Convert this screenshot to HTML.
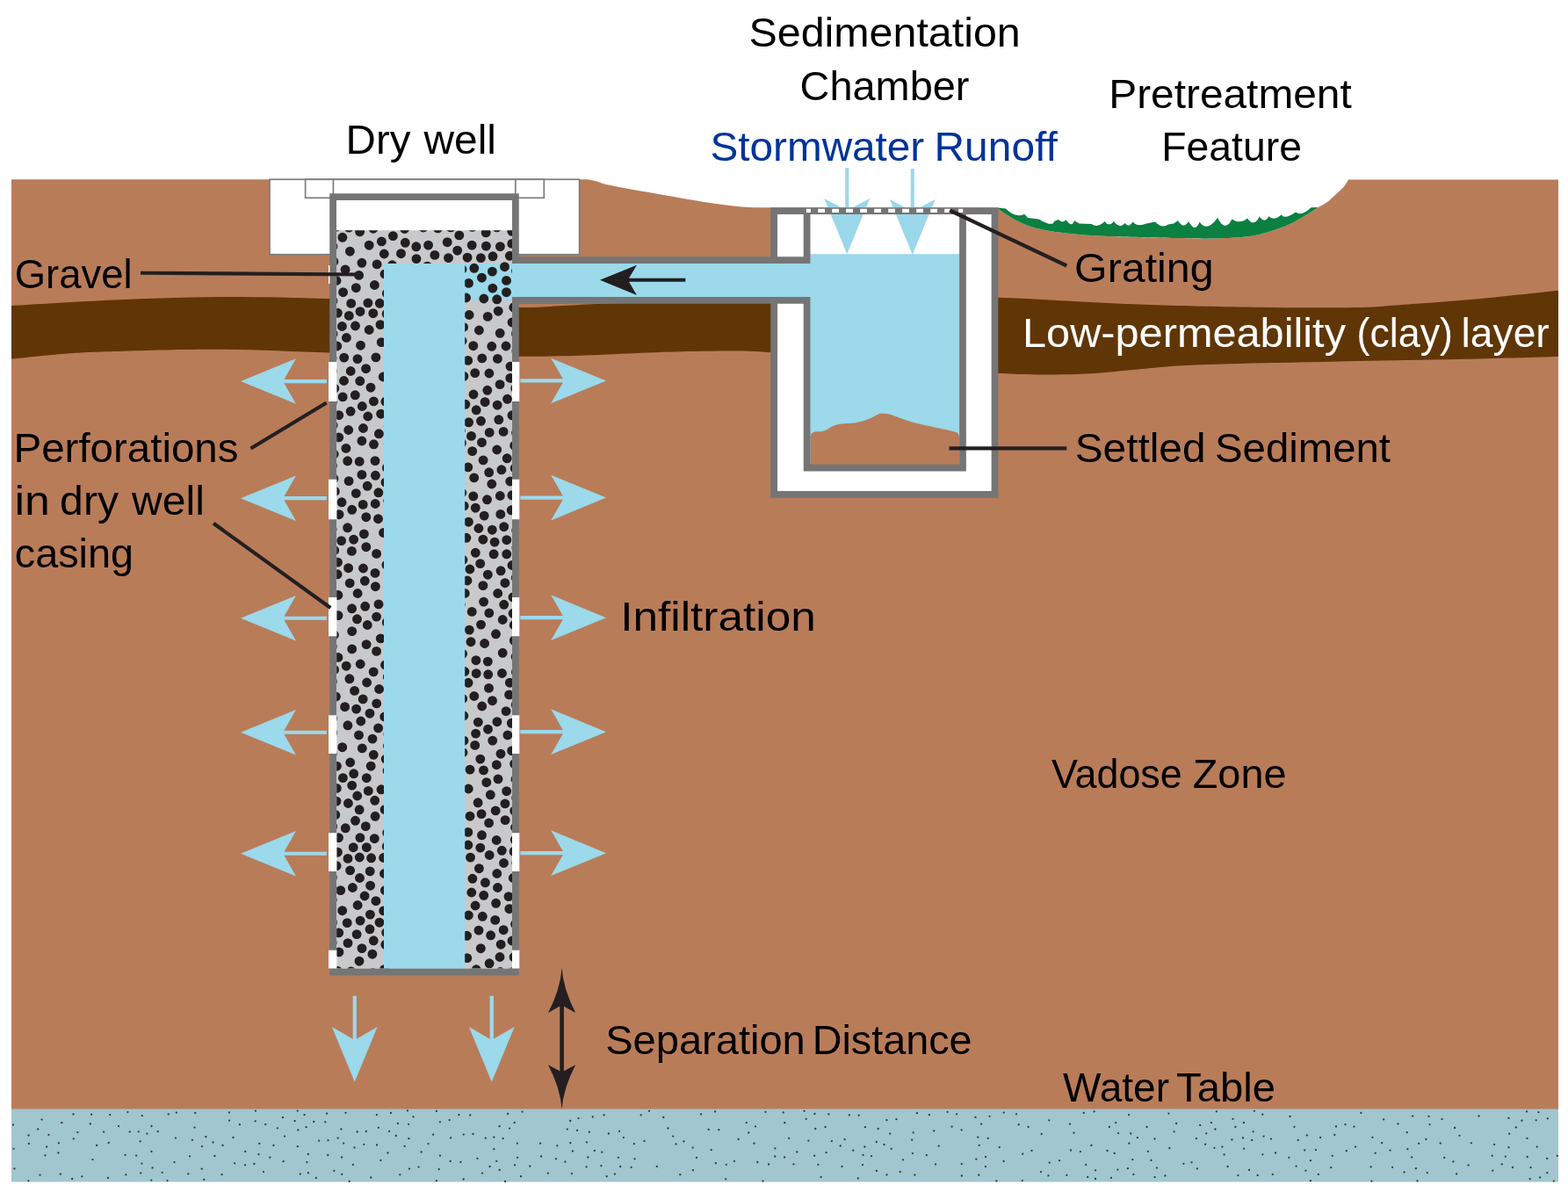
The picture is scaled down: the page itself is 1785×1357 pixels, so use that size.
<!DOCTYPE html>
<html lang="en"><head><meta charset="utf-8"><title>Dry well with sedimentation chamber</title>
<style>html,body{margin:0;padding:0;background:#fff}svg{display:block;will-change:transform}text{font-family:"Liberation Sans","DejaVu Sans",sans-serif}</style></head><body>
<svg width="1785" height="1357" viewBox="0 0 1785 1357">
<rect width="1785" height="1357" fill="#fff"/>
<path d="M13,204.25H670C671.7,204.7 676.8,205.8 680.0,206.7C683.2,207.6 683.8,208.4 689.2,209.7C694.7,211.0 703.6,212.7 712.7,214.4C721.9,216.1 733.6,218.1 744.1,219.9C754.6,221.7 765.0,223.6 775.5,225.4C786.0,227.2 797.8,229.4 806.9,230.8C816.0,232.2 822.6,233.1 830.4,233.9C838.2,234.8 846.1,235.5 853.9,235.9C861.7,236.3 873.1,236.2 877.0,236.2H1133.75C1137.7,238.7 1149.4,247.1 1157.5,251.2C1165.6,255.3 1172.1,258.1 1182.5,260.6C1192.9,263.1 1205.4,264.8 1220.0,266.2C1234.6,267.6 1249.6,268.5 1270.0,269.3C1290.4,270.1 1324.2,270.7 1342.5,271.1C1360.8,271.5 1367.5,271.9 1380.0,271.6C1392.5,271.4 1407.1,270.8 1417.5,269.6C1427.9,268.4 1434.2,266.8 1442.5,264.4C1450.8,262.0 1460.2,258.6 1467.5,255.4C1474.8,252.2 1480.7,248.4 1486.2,245.2C1491.8,242.0 1498.2,237.5 1500.6,236.0C1502.3,235.0 1507.6,232.5 1511.0,230.0C1514.4,227.5 1518.0,223.7 1521.0,221.0C1524.0,218.3 1526.8,215.8 1528.8,213.8C1530.7,211.7 1531.5,210.3 1532.5,208.8C1533.5,207.2 1534.6,205.1 1535.0,204.4H1774V1264H13Z" fill="#B97C59"/>
<path d="M1133.75,236.25L1145,237.5Q1156.25,248.9 1166.25,243.75L1170,248L1182.5,249.4Q1198.75,258.9 1200,251.9L1205,250Q1208.75,254.5 1213.75,250.6Q1220,259.8 1223,251.25L1228.75,254.4L1242.5,255Q1250,260.0 1257.5,252Q1262.5,258.9 1268,251.9Q1275,261.7 1280.6,253.75Q1285,260.3 1289.4,252.5Q1295,258.8 1305,254.4L1315,252.5Q1322.5,260.6 1330,255.6L1336,254.4L1341,251.25Q1347.5,261.7 1353,251.9Q1360.6,265.9 1365.6,252.5Q1373.75,265.1 1386.25,247.75Q1394.4,265.5 1402.5,249.4Q1411.25,255.7 1420,248.5Q1427.5,259.3 1433.75,246.6Q1439.4,254.9 1444.4,246.25Q1450,251.8 1458.75,244.4Q1462,250.5 1475,241.5Q1482,246.7 1492.5,236.25L1500.6,236L1500.6,236C1498.2,237.5 1491.8,242.0 1486.2,245.2C1480.7,248.4 1474.8,252.2 1467.5,255.4C1460.2,258.6 1450.8,262.0 1442.5,264.4C1434.2,266.8 1427.9,268.4 1417.5,269.6C1407.1,270.8 1392.5,271.4 1380.0,271.6C1367.5,271.9 1360.8,271.5 1342.5,271.1C1324.2,270.7 1290.4,270.1 1270.0,269.3C1249.6,268.5 1234.6,267.6 1220.0,266.2C1205.4,264.8 1192.9,263.1 1182.5,260.6C1172.1,258.1 1165.6,255.3 1157.5,251.2C1149.4,247.1 1137.7,238.7 1133.8,236.2Z" fill="#0B8040"/>
<path d="M13,348C32.5,346.9 90.5,343.2 130.0,341.5C169.5,339.8 209.2,338.2 250.0,338.0C290.8,337.8 336.7,338.8 375.0,340.0C413.3,341.2 444.0,343.3 480.0,345.0C516.0,346.7 564.3,349.5 591.0,350.0C617.7,350.5 624.3,348.7 640.0,348.0C655.7,347.3 668.3,346.5 685.0,345.8C701.7,345.1 722.5,344.6 740.0,344.0C757.5,343.4 767.2,343.2 790.0,342.5C812.8,341.8 840.3,340.8 877.0,340.0C913.7,339.2 966.7,338.2 1010.0,338.0C1053.3,337.8 1100.3,337.8 1137.0,338.8C1173.7,339.7 1198.7,342.0 1230.0,343.5C1261.3,345.0 1288.3,346.4 1325.0,347.5C1361.7,348.6 1413.2,349.6 1450.0,350.0C1486.8,350.4 1522.8,350.4 1546.0,350.0C1569.2,349.6 1566.7,349.1 1589.0,347.5C1611.3,345.9 1649.2,343.3 1680.0,340.5C1710.8,337.7 1758.3,332.4 1774.0,330.8L1774,406C1755.0,406.5 1698.0,408.2 1660.0,409.0C1622.0,409.8 1581.0,410.3 1546.0,411.0C1511.0,411.7 1482.7,412.2 1450.0,413.0C1417.3,413.8 1376.7,414.7 1350.0,416.0C1323.3,417.3 1310.8,419.3 1290.0,421.0C1269.2,422.7 1250.5,425.3 1225.0,426.0C1199.5,426.7 1174.5,426.8 1137.0,425.0C1099.5,423.2 1043.3,419.0 1000.0,415.0C956.7,411.0 912.0,403.8 877.0,401.2C842.0,398.8 819.5,399.7 790.0,400.0C760.5,400.3 725.0,402.3 700.0,403.2C675.0,404.1 658.2,404.9 640.0,405.3C621.8,405.7 617.7,405.9 591.0,405.8C564.3,405.7 516.0,405.2 480.0,404.5C444.0,403.8 413.3,402.6 375.0,401.5C336.7,400.4 290.8,397.9 250.0,397.7C209.2,397.4 160.0,399.1 130.0,400.0C100.0,400.9 89.5,401.5 70.0,403.0C50.5,404.5 22.5,407.8 13.0,408.8Z" fill="#603606"/>
<rect x="13" y="1262.5" width="1761" height="83" fill="#A1C6CE"/>
<path d="M809.7,1309.1h0M1639.7,1301.5h0M907.3,1311.4h0M338.8,1305.2h0M1122.0,1328.1h0M179.6,1288.2h0M173.5,1329.5h0M1233.8,1266.9h0M1741.7,1342.1h0M1164.2,1313.7h0M291.0,1264.7h0M943.4,1268.4h0M348.6,1283.2h0M66.9,1301.3h0M788.9,1332.2h0M927.1,1315.7h0M893.1,1317.5h0M818.4,1286.2h0M1768.9,1344.6h0M1491.9,1321.2h0M568.6,1282.2h0M522.4,1269.2h0M1361.9,1296.1h0M1503.1,1295.0h0M1699.2,1332.6h0M15.0,1280.6h0M1615.2,1301.8h0M1738.5,1295.9h0M142.5,1314.8h0M1383.4,1285.5h0M167.3,1290.6h0M1709.8,1325.3h0M221.5,1283.6h0M191.7,1268.4h0M1416.0,1278.0h0M997.8,1300.0h0M349.4,1323.1h0M244.4,1316.0h0M218.9,1297.8h0M388.4,1285.5h0M1721.9,1329.0h0M549.0,1335.6h0M384.6,1295.6h0M1516.8,1315.8h0M190.5,1344.1h0M1373.2,1290.3h0M535.2,1269.5h0M172.5,1311.0h0M441.5,1312.5h0M667.8,1300.4h0M1701.1,1302.9h0M1024.7,1334.1h0M335.6,1276.1h0M1611.9,1330.2h0M452.9,1279.0h0M1314.6,1340.1h0M359.8,1340.9h0M1565.8,1312.7h0M755.3,1272.0h0M82.1,1342.0h0M433.4,1320.9h0M466.0,1330.6h0M1063.2,1287.4h0M322.6,1322.2h0M135.0,1282.1h0M997.9,1333.0h0M1094.6,1286.3h0M1627.6,1280.1h0M43.2,1285.4h0M798.0,1268.4h0M324.0,1293.6h0M1020.4,1274.2h0M651.0,1336.1h0M1738.7,1317.0h0M1229.9,1311.1h0M260.9,1266.4h0M45.5,1337.7h0M1247.0,1342.0h0M51.4,1315.3h0M862.3,1323.0h0M575.0,1344.9h0M1310.5,1320.9h0M1409.4,1338.1h0M632.9,1319.3h0M1598.6,1334.5h0M747.8,1327.9h0M1532.8,1310.2h0M1113.3,1294.7h0M1038.9,1313.1h0M155.1,1315.6h0M1761.3,1335.2h0M1294.9,1295.2h0M1306.9,1310.8h0M161.4,1324.6h0M66.4,1312.5h0M860.0,1282.3h0M1242.4,1304.0h0M1094.9,1338.5h0M464.0,1264.4h0M543.5,1318.8h0M370.3,1277.3h0M1607.2,1317.3h0M589.1,1317.8h0M363.2,1298.6h0M1431.7,1338.0h0M1562.4,1294.8h0M1039.7,1289.3h0M253.5,1304.0h0M1486.5,1332.7h0M1265.0,1340.9h0M500.9,1277.3h0M806.7,1285.9h0M1114.7,1303.8h0M568.7,1331.9h0M145.4,1266.1h0M1549.3,1266.9h0M1260.5,1310.0h0M557.6,1328.0h0M47.6,1274.6h0M814.1,1265.5h0M1473.4,1282.8h0M1122.1,1316.9h0M1218.0,1279.7h0M849.8,1278.1h0M32.9,1302.0h0M1270.2,1278.1h0M493.1,1291.7h0M1094.8,1325.1h0M706.2,1328.0h0M1608.1,1270.6h0M1654.5,1322.4h0M242.5,1300.5h0M1114.3,1337.7h0M676.8,1309.9h0M1560.7,1328.4h0M1674.9,1301.3h0M1159.7,1280.2h0M1283.9,1330.2h0M1142.6,1322.0h0M389.2,1336.8h0M958.5,1327.9h0M1519.3,1291.9h0M159.6,1299.4h0M982.0,1326.1h0M871.4,1265.8h0M1437.3,1268.7h0M603.3,1327.7h0M261.1,1275.6h0M1683.6,1270.5h0M403.5,1306.4h0M524.4,1322.9h0M1137.8,1306.1h0M1497.9,1309.1h0M562.3,1294.6h0M1500.8,1336.9h0M380.3,1332.8h0M1717.5,1306.2h0M956.7,1304.5h0M1078.6,1265.8h0M718.6,1328.8h0M961.6,1297.2h0M487.5,1302.1h0M1448.8,1336.9h0M852.2,1289.4h0M350.8,1313.9h0M1641.6,1274.1h0M1384.8,1265.4h0M1222.5,1289.7h0M198.5,1323.1h0M230.0,1305.1h0M946.9,1299.1h0M373.3,1315.0h0M1521.0,1282.5h0M1317.0,1329.6h0M1601.8,1289.2h0M397.7,1344.9h0M1575.2,1274.4h0M470.5,1271.4h0M1477.8,1297.9h0M1403.5,1273.8h0M722.5,1319.3h0M1214.3,1337.8h0M1717.4,1272.9h0M903.5,1325.3h0M346.5,1269.2h0M200.8,1266.6h0M984.4,1305.5h0M1491.9,1344.2h0M123.0,1341.0h0M826.8,1325.8h0M588.9,1301.6h0M920.4,1298.6h0M1247.1,1332.3h0M1314.5,1296.5h0M357.2,1277.0h0M915.6,1264.8h0M1585.1,1328.8h0M1068.7,1304.6h0M1742.5,1329.1h0M1447.0,1296.6h0M1236.2,1326.0h0M1285.1,1269.2h0M615.1,1301.7h0M32.6,1292.5h0M422.3,1340.5h0M1185.7,1291.0h0M1174.5,1309.9h0M1772.8,1315.8h0M1738.0,1265.4h0M465.4,1296.2h0M102.8,1279.4h0M674.8,1271.5h0M455.3,1337.3h0M1065.1,1325.4h0M93.4,1339.3h0M295.3,1301.9h0M311.5,1303.9h0M1089.1,1268.3h0M940.6,1312.2h0M657.0,1286.8h0M512.7,1321.9h0M445.0,1267.0h0M289.4,1325.0h0M699.9,1336.6h0M1330.4,1267.6h0M1753.2,1340.5h0M143.3,1337.3h0M769.5,1302.4h0M1725.8,1283.4h0M934.6,1339.9h0M1285.3,1301.7h0M372.2,1267.7h0M793.0,1317.9h0M1038.2,1297.7h0M1382.4,1306.8h0M1305.6,1282.9h0M214.3,1336.3h0M1393.6,1314.4h0M645.8,1285.6h0M1219.0,1309.5h0M1054.8,1315.1h0M1339.1,1279.0h0M1624.8,1335.1h0M83.5,1268.5h0M1110.5,1271.9h0M966.8,1269.4h0M982.6,1314.9h0M1437.4,1314.3h0M1366.2,1280.9h0M760.4,1284.5h0M1438.6,1293.6h0M1163.8,1344.1h0M1326.4,1338.5h0M766.2,1293.6h0M184.7,1334.8h0M1006.5,1303.0h0M389.1,1317.5h0M157.7,1288.3h0M1289.3,1320.1h0M511.6,1275.1h0M643.4,1322.7h0M658.5,1273.1h0M1426.6,1288.3h0M572.7,1296.1h0M1658.1,1336.4h0M450.8,1293.0h0M709.9,1295.1h0M1416.1,1307.6h0M1485.2,1309.4h0M53.1,1305.5h0M971.2,1309.7h0M1713.9,1316.6h0M161.8,1270.2h0M267.1,1324.3h0M401.8,1325.9h0M931.4,1325.8h0M882.4,1307.3h0M1623.4,1297.0h0M1467.3,1317.8h0M1515.3,1329.2h0M1698.7,1315.7h0M1425.2,1297.9h0M373.5,1298.1h0M527.7,1342.5h0M118.1,1288.6h0M216.0,1316.3h0M1378.9,1278.1h0M123.7,1300.9h0M1041.4,1337.6h0M339.4,1286.4h0M562.3,1308.2h0M976.8,1341.5h0M496.9,1344.2h0M1170.6,1282.9h0M667.6,1328.4h0M1268.7,1312.9h0M290.7,1276.3h0M580.1,1284.6h0M1543.0,1305.6h0M1134.4,1344.4h0M279.0,1326.3h0M16.4,1330.4h0M858.5,1301.7h0M1402.4,1297.5h0M1626.6,1270.9h0M147.7,1288.4h0M835.9,1321.8h0M200.0,1295.6h0M826.2,1342.3h0M1262.9,1282.9h0M32.4,1344.3h0M538.5,1291.0h0M703.9,1317.8h0M465.1,1279.8h0M1287.2,1290.5h0M1468.5,1271.0h0M1206.1,1321.2h0M172.5,1282.0h0M729.6,1269.4h0M1362.9,1330.4h0M692.9,1290.5h0M739.0,1264.8h0M616.0,1316.5h0M1602.4,1308.2h0M634.2,1304.3h0M1749.7,1305.6h0M1272.4,1331.6h0M1117.1,1279.6h0M1028.0,1320.3h0M593.0,1339.2h0M649.3,1301.2h0M232.2,1342.8h0M252.5,1337.2h0M999.7,1285.0h0M1613.5,1344.4h0M1452.0,1312.5h0M229.7,1330.7h0M977.7,1269.7h0M70.3,1278.2h0M1194.7,1323.6h0M685.3,1311.7h0M1427.9,1264.8h0M265.5,1295.0h0M928.3,1285.0h0M1013.2,1290.6h0M1142.8,1266.6h0M1194.3,1275.3h0M840.6,1297.0h0M1111.3,1319.7h0M1347.4,1324.8h0M868.5,1344.6h0M733.5,1298.9h0M1009.5,1337.3h0M774.3,1337.2h0M578.1,1268.0h0M1290.3,1336.9h0M1336.6,1288.3h0M1057.9,1269.2h0M898.1,1295.8h0M105.4,1320.1h0M939.6,1283.0h0M552.8,1295.7h0M428.9,1269.1h0M1185.0,1334.1h0M443.1,1287.9h0M1043.9,1267.2h0M68.8,1336.7h0M1591.5,1279.4h0M1487.9,1292.4h0M1561.4,1344.6h0M350.9,1335.2h0M1238.2,1339.9h0M406.7,1288.5h0M669.3,1317.5h0M416.8,1288.0h0M1644.2,1317.9h0M501.0,1315.7h0M172.3,1343.6h0M788.6,1306.6h0M341.8,1336.6h0M1751.4,1266.2h0M690.7,1339.2h0M893.3,1278.2h0M992.0,1316.1h0M1391.3,1305.6h0M1083.6,1282.7h0M1397.6,1328.0h0M429.0,1303.4h0M891.7,1266.4h0M778.5,1299.5h0M476.5,1328.6h0M1014.7,1307.8h0M1406.4,1282.9h0M88.4,1289.1h0M479.6,1311.5h0M315.8,1284.3h0M1475.6,1327.6h0M875.1,1325.5h0M1748.7,1275.3h0M814.9,1324.2h0M705.1,1287.8h0M1356.6,1323.3h0M984.8,1283.2h0M83.8,1296.3h0M1157.0,1268.3h0M1573.1,1301.2h0M684.4,1327.2h0M302.2,1280.1h0M391.2,1301.6h0M1761.2,1318.9h0M1531.5,1280.2h0M687.6,1269.4h0M496.9,1265.0h0M649.2,1276.0h0M1661.5,1292.8h0M160.3,1335.4h0M586.1,1326.3h0M927.4,1268.0h0M272.9,1280.2h0M527.8,1291.6h0M393.5,1266.8h0M1193.4,1338.4h0M1541.5,1282.6h0M1126.6,1270.8h0M721.9,1302.2h0M307.3,1317.7h0M279.2,1311.0h0M1245.6,1265.4h0M110.1,1303.9h0M55.4,1291.8h0M1582.6,1309.6h0M651.9,1310.5h0M1671.6,1326.4h0M499.8,1331.1h0M1732.5,1275.7h0M15.6,1307.8h0M882.3,1316.5h0M1718.2,1290.7h0M623.8,1335.7h0M565.2,1321.8h0M294.5,1314.2h0M1331.4,1307.0h0M430.9,1283.8h0M585.7,1278.0h0M917.7,1273.8h0M125.2,1269.1h0M1372.1,1302.7h0M300.0,1334.1h0M460.6,1304.9h0M1415.0,1295.5h0M1273.0,1290.1h0M234.3,1294.2h0M338.8,1264.6h0M1124.7,1295.8h0M222.2,1267.0h0M1761.8,1273.3h0M594.6,1265.7h0M670.9,1288.7h0M1422.0,1331.9h0M513.1,1295.4h0M322.0,1272.2h0M1656.1,1284.0h0M1009.5,1275.2h0M414.3,1302.8h0M104.1,1268.7h0" stroke="#333a3c" stroke-width="2.3" stroke-linecap="round" fill="none"/>
<rect x="307" y="204.25" width="352.6" height="85.5" fill="#fff" stroke="#7d7d7d" stroke-width="1.7"/>
<rect x="347.6" y="204.25" width="271.7" height="21" fill="#fff" stroke="#7d7d7d" stroke-width="1.7"/>
<path d="M379.4,204.25V225M586.8,204.25V225" stroke="#7d7d7d" stroke-width="1.7" fill="none"/>
<rect x="379" y="224" width="208" height="40" fill="#fff"/>
<rect x="379" y="262.2" width="208" height="842" fill="#C8C9CB"/>
<rect x="529" y="300" width="60" height="41.6" fill="#9BD9EB"/>
<clipPath id="gc"><rect x="383.2" y="262.2" width="199.8" height="840.3"/></clipPath>
<path clip-path="url(#gc)" d="M545.0,1059.1h0M533.4,1042.0h0M384.1,653.8h0M576.1,809.6h0M567.2,354.2h0M380.8,442.2h0M436.7,1036.9h0M538.8,393.7h0M545.4,376.0h0M378.4,998.7h0M422.0,441.2h0M584.3,999.5h0M438.8,1075.3h0M421.0,1057.8h0M523.0,1079.6h0M565.7,512.0h0M408.6,313.4h0M441.3,770.6h0M378.7,834.2h0M549.9,666.6h0M526.0,306.5h0M582.8,277.4h0M535.5,976.1h0M381.8,927.6h0M379.9,297.7h0M419.3,900.4h0M573.2,1058.7h0M400.7,894.1h0M545.4,988.7h0M385.7,1061.9h0M397.1,547.6h0M394.4,384.5h0M411.9,299.3h0M585.2,711.5h0M389.7,1036.7h0M384.9,677.5h0M531.6,1065.3h0M400.4,627.4h0M409.3,976.0h0M439.9,643.2h0M587.9,982.4h0M583.0,643.5h0M579.6,790.9h0M396.7,489.5h0M540.7,848.4h0M439.7,1061.7h0M380.4,722.9h0M430.6,828.9h0M532.9,962.0h0M560.7,843.1h0M583.0,1071.0h0M574.9,663.7h0M523.2,869.7h0M541.9,751.7h0M383.8,394.0h0M424.0,841.1h0M510.5,293.6h0M389.4,371.5h0M427.9,1025.7h0M378.1,602.6h0M436.5,606.5h0M402.2,964.7h0M456.5,288.7h0M549.9,614.2h0M548.7,804.0h0M565.6,258.8h0M400.7,738.9h0M425.5,505.8h0M582.2,580.8h0M579.8,1034.7h0M584.0,679.9h0M403.6,786.4h0M542.2,466.8h0M434.2,389.6h0M585.7,507.2h0M534.1,358.5h0M537.7,513.6h0M440.3,708.4h0M385.7,472.6h0M564.5,721.8h0M526.7,795.4h0M556.9,425.0h0M440.3,963.5h0M438.1,921.6h0M569.2,379.3h0M410.2,756.0h0M548.5,316.2h0M426.3,954.7h0M544.3,822.1h0M383.4,872.2h0M583.5,1106.6h0M554.8,444.3h0M527.6,372.4h0M400.7,580.3h0M393.1,306.9h0M389.7,850.7h0M433.3,726.9h0M427.2,573.5h0M532.7,410.4h0M527.8,814.8h0M395.9,825.8h0M577.9,836.9h0M424.8,356.7h0M582.3,823.3h0M427.4,541.3h0M556.8,697.9h0M533.4,594.2h0M398.4,286.2h0M537.7,258.4h0M410.5,393.2h0M431.4,493.8h0M411.9,502.0h0M427.4,667.7h0M420.2,279.2h0M426.4,324.5h0M412.3,462.5h0M582.8,263.3h0M566.7,675.5h0M574.5,303.7h0M429.1,300.9h0M385.9,1083.9h0M415.7,690.3h0M395.7,524.8h0M400.7,718.6h0M571.5,766.5h0M396.4,914.5h0M550.1,523.9h0M405.3,327.7h0M536.0,730.7h0M438.0,312.0h0M405.3,561.6h0M558.6,1064.8h0M447.4,268.6h0M530.6,339.0h0M527.0,637.3h0M575.1,933.6h0M570.1,649.8h0M384.9,748.4h0M436.2,429.0h0M556.5,783.4h0M398.7,868.0h0M416.8,588.7h0M549.3,1043.3h0M573.1,491.4h0M579.0,1020.6h0M533.1,777.3h0M566.2,461.2h0M460.6,260.5h0M528.2,575.9h0M442.2,485.5h0M413.2,795.9h0M539.0,449.0h0M552.4,1004.8h0M530.9,612.3h0M581.0,417.1h0M384.4,356.3h0M416.6,419.7h0M399.2,422.5h0M546.8,864.1h0M399.7,345.4h0M391.5,433.5h0M395.6,600.8h0M576.5,319.4h0M440.1,357.3h0M388.6,615.6h0M398.2,663.9h0M538.8,564.9h0M486.5,303.2h0M423.9,1086.2h0M383.0,912.1h0M536.8,1016.0h0M409.1,921.8h0M586.8,442.2h0M413.5,647.0h0M566.5,1010.5h0M416.8,622.7h0M434.0,898.8h0M582.7,854.7h0M428.6,741.4h0M386.0,585.7h0M390.6,332.7h0M533.6,480.8h0M562.1,630.8h0M566.4,408.4h0M561.0,291.8h0M565.3,870.7h0M392.6,804.7h0M555.2,360.4h0M537.2,696.4h0M407.1,675.5h0M539.7,543.9h0M555.3,753.1h0M400.6,692.8h0M570.9,534.8h0M399.6,1105.9h0M412.3,851.9h0M430.9,560.8h0M583.0,367.0h0M481.9,259.0h0M544.1,913.8h0M389.9,270.3h0M487.6,279.1h0M441.0,877.5h0M418.3,711.5h0M554.5,568.8h0M397.9,772.8h0M409.6,263.8h0M546.7,641.6h0M576.5,332.7h0M398.6,990.9h0M390.2,451.9h0M550.6,685.1h0M532.1,293.2h0M437.7,816.0h0M411.9,540.4h0M557.2,973.5h0M415.3,661.3h0M401.4,1010.5h0M535.0,876.1h0M414.4,607.9h0M573.7,599.7h0M431.6,784.5h0M385.5,953.6h0M587.0,887.2h0M571.3,968.3h0M413.5,487.5h0M391.7,407.1h0M529.2,675.4h0M380.2,517.0h0M437.3,289.0h0M553.8,890.7h0M421.4,1041.1h0M418.9,344.9h0M509.2,275.7h0M527.0,856.6h0M586.2,533.2h0M576.7,900.7h0M440.7,948.1h0M409.2,525.4h0M532.8,947.4h0M585.3,729.2h0M427.0,524.6h0M439.2,864.1h0M387.7,1013.6h0M406.1,1063.6h0M533.3,898.0h0M563.7,1047.4h0M576.8,630.8h0M438.4,1013.6h0M532.8,531.9h0M557.1,1096.8h0M524.3,490.3h0M547.5,711.1h0M550.8,340.0h0M553.2,264.8h0M585.1,1089.6h0M551.6,732.5h0M408.5,836.9h0M587.5,765.2h0M565.9,821.7h0M526.1,388.0h0M585.7,923.1h0M416.3,940.6h0M570.2,1075.2h0M385.7,497.9h0M420.2,375.5h0M572.2,743.3h0M404.3,449.8h0M542.2,1103.8h0M572.2,705.5h0M564.2,922.9h0M577.5,454.3h0M498.4,259.8h0M560.5,797.7h0M409.9,953.6h0M427.9,406.9h0M559.8,551.0h0M547.3,1079.7h0M407.1,1030.5h0M433.6,471.2h0M410.0,354.7h0M553.4,280.1h0M584.8,350.0h0M551.2,587.1h0M438.5,757.0h0M422.6,976.8h0M567.8,477.8h0M421.2,991.9h0M548.5,503.7h0M586.6,942.0h0M577.2,521.8h0M580.3,291.3h0M421.6,1008.2h0M580.7,548.0h0M384.4,970.2h0M567.0,886.9h0M546.8,965.1h0M393.9,510.4h0M524.2,688.3h0M440.4,334.1h0M582.9,563.8h0M587.6,492.7h0M583.0,472.8h0M576.0,394.0h0M409.0,1094.2h0M437.5,994.5h0M382.6,258.2h0M384.5,640.1h0M565.2,956.5h0M431.0,687.9h0M428.6,630.4h0M556.6,936.9h0M588.0,399.7h0M415.1,1020.0h0M474.0,294.6h0M417.6,777.0h0M424.3,1107.4h0M558.3,904.8h0M576.8,614.7h0M382.4,793.2h0M422.2,872.2h0M532.0,661.0h0M417.3,885.7h0M378.8,817.7h0M573.7,688.3h0M461.3,276.3h0M385.0,700.6h0M379.9,544.9h0M378.3,422.5h0M427.1,929.3h0M534.3,717.1h0M393.3,942.8h0M381.3,559.4h0M535.0,929.2h0M537.2,279.1h0M417.1,733.6h0M555.7,767.8h0M586.3,956.1h0M533.5,322.4h0M378.3,1024.5h0M428.7,800.9h0M410.8,821.0h0M547.5,479.3h0M580.3,777.2h0M564.6,1028.3h0M383.3,897.4h0M426.7,911.3h0M587.1,747.6h0M569.1,437.6h0M409.8,433.8h0M528.0,428.3h0M439.0,549.2h0M559.8,394.3h0M528.0,843.2h0M557.2,492.4h0M473.8,280.8h0M584.1,698.3h0M438.9,457.2h0M383.1,985.7h0M412.0,1079.6h0M380.6,762.4h0M560.4,309.1h0M525.8,561.0h0M565.8,994.5h0M425.0,260.2h0M560.8,328.1h0M425.3,1070.8h0M440.4,532.7h0M446.5,301.8h0M383.0,319.5h0M404.5,371.0h0M537.9,1000.3h0M587.5,379.8h0M395.2,1050.6h0M427.0,652.4h0M528.9,764.5h0M547.4,293.6h0M436.6,976.5h0M569.8,585.4h0M396.6,646.7h0M442.2,505.5h0M525.5,504.3h0M441.5,849.3h0M541.3,629.3h0M548.8,407.9h0M540.7,424.6h0M548.5,950.8h0M586.6,1052.2h0M569.5,1106.5h0M442.3,739.5h0M560.3,603.2h0M522.8,267.9h0M585.6,869.6h0M384.5,1105.5h0M399.1,468.3h0M541.1,1031.0h0M413.2,574.4h0M390.4,885.6h0M531.8,1090.6h0M555.5,830.2h0M526.6,744.3h0M407.0,408.6h0M520.7,285.2h0M437.5,1103.7h0M550.5,876.9h0M402.7,880.8h0M550.7,1019.3h0M494.9,290.4h0M410.1,1048.1h0M425.2,764.9h0M544.9,601.5h0M570.0,858.2h0M513.1,258.9h0M397.3,359.4h0M379.0,280.5h0M379.0,342.5h0M569.0,1089.5h0M389.0,571.8h0M378.4,775.8h0M396.0,1073.6h0M378.5,530.2h0M555.3,654.2h0M573.5,982.5h0M587.8,603.9h0M418.2,553.3h0M380.7,626.5h0M378.7,940.8h0M556.7,537.8h0M539.8,792.5h0M378.5,1050.2h0M379.1,484.1h0M428.6,702.1h0M569.4,280.6h0M378.3,736.1h0M432.3,345.3h0M430.5,590.7h0M421.0,812.2h0M425.3,859.3h0M569.3,564.5h0M434.4,274.9h0M565.7,340.8h0M588.0,623.7h0M442.4,934.2h0M378.3,458.1h0M587.3,802.4h0M442.0,835.7h0M418.8,474.0h0M587.6,308.6h0M587.3,657.8h0M379.1,380.0h0M405.6,807.1h0M378.3,857.8h0M394.2,758.2h0M404.5,934.3h0M432.0,1050.2h0M397.1,259.1h0M425.4,456.9h0M406.7,906.0h0M552.1,457.7h0M529.9,460.3h0M406.5,704.8h0M541.3,578.2h0M378.0,407.7h0M534.9,648.0h0M541.6,835.1h0M441.8,570.1h0M402.6,614.2h0M587.7,908.3h0M409.5,999.5h0M536.5,496.4h0M433.0,369.6h0M542.2,766.7h0M539.8,305.3h0M585.1,969.4h0M548.1,926.6h0M574.9,914.9h0M396.0,977.4h0M563.1,617.1h0M417.3,964.7h0M378.2,1073.0h0M580.8,430.4h0" stroke="#231F20" stroke-width="10.9" stroke-linecap="round" fill="none"/>
<rect x="437" y="300" width="92.2" height="802.5" fill="#9BD9EB"/>
<rect x="583" y="296" width="340" height="46" fill="#9BD9EB"/>
<rect x="881" y="240" width="252" height="323" fill="#fff"/>
<rect x="920" y="289.25" width="175" height="241" fill="#9BD9EB"/>
<rect x="881" y="300" width="42" height="38" fill="#9BD9EB"/>
<path d="M922.5,529V498C922.7,497.3 922.6,495.1 923.5,494.0C924.4,492.9 925.6,492.1 928.0,491.5C930.4,490.9 933.9,491.8 938.0,490.5C942.1,489.2 946.3,485.1 952.5,483.5C958.7,481.9 968.8,482.2 975.0,481.0C981.2,479.8 985.8,478.1 990.0,476.5C994.2,474.9 997.5,472.5 1000.0,471.5C1002.5,470.5 1003.0,470.8 1005.0,470.8C1007.0,470.8 1008.7,470.6 1012.0,471.5C1015.3,472.4 1020.3,474.4 1025.0,476.0C1029.7,477.6 1033.8,479.3 1040.0,481.0C1046.2,482.7 1054.5,484.3 1062.0,486.0C1069.5,487.7 1080.3,489.8 1085.0,491.0C1089.7,492.2 1088.8,492.0 1090.0,493.0C1091.2,494.0 1091.7,496.3 1092.0,497.0V529Z" fill="#B97C59"/>
<path d="M962.25,191H966.25V238.5L990.15,226L964.25,289.3L938.35,226L962.25,238.5Z" fill="#9AD7E9"/>
<path d="M1036.75,192H1040.75V239.5L1064.65,227L1038.75,289.8L1012.85,227L1036.75,239.5Z" fill="#9AD7E9"/>
<path d="M379.1,1106.6V224H586.9V296.2M586.9,341.9V1106.6M375.2,1106.6H590.8M583,296.2H918.6V240.1M583,341.9H918.6V532.6H1096V240.1M881.1,296.2V240.1H1132.5V562.8H881.1V341.9" fill="none" stroke="#757575" stroke-width="7.75" stroke-linejoin="miter" stroke-linecap="butt"/>
<path d="M917.9,239.8h5M931.2,239.8h7.8M947.2,239.8h7.8M963.2,239.8h7.8M979.2,239.8h7.8M995.2,239.8h7.8M1011.2,239.8h7.8M1027.2,239.8h7.8M1043.2,239.8h7.8M1059.2,239.8h7.8M1075.2,239.8h7.8M1091.2,239.8h5" stroke="#fff" stroke-width="4.2" fill="none"/>
<rect x="374" y="412" width="9.3" height="45" fill="#fff"/>
<rect x="583" y="412" width="8.3" height="45" fill="#fff"/>
<rect x="374" y="545.75" width="9.3" height="45.5" fill="#fff"/>
<rect x="583" y="545.75" width="8.3" height="45.5" fill="#fff"/>
<rect x="374" y="680" width="9.3" height="44.25" fill="#fff"/>
<rect x="583" y="680" width="8.3" height="44.25" fill="#fff"/>
<rect x="374" y="814.25" width="9.3" height="43.75" fill="#fff"/>
<rect x="583" y="814.25" width="8.3" height="43.75" fill="#fff"/>
<rect x="374" y="948.25" width="9.3" height="43.75" fill="#fff"/>
<rect x="583" y="948.25" width="8.3" height="43.75" fill="#fff"/>
<rect x="374" y="1081.75" width="9.3" height="20.75" fill="#fff"/>
<rect x="583" y="1081.75" width="8.3" height="20.75" fill="#fff"/>
<rect x="374" y="302" width="1.4" height="21" fill="#fff"/>
<path d="M592.3,431.35H640.8L627.2,407.65L690.1,433.45L627.2,459.25L640.8,435.55H592.3Z" fill="#9BD9EB"/>
<path d="M371.9,431.95H323.4L336.9,408.25L274,434.05L336.9,459.85L323.4,436.15H371.9Z" fill="#9BD9EB"/>
<path d="M592.3,564.5H640.8L627.2,540.8L690.1,566.6L627.2,592.4L640.8,568.7H592.3Z" fill="#9BD9EB"/>
<path d="M371.9,565.1H323.4L336.9,541.4L274,567.2L336.9,593L323.4,569.3H371.9Z" fill="#9BD9EB"/>
<path d="M592.3,701.05H640.8L627.2,677.35L690.1,703.15L627.2,728.95L640.8,705.25H592.3Z" fill="#9BD9EB"/>
<path d="M371.9,701.65H323.4L336.9,677.95L274,703.75L336.9,729.55L323.4,705.85H371.9Z" fill="#9BD9EB"/>
<path d="M592.3,831.05H640.8L627.2,807.35L690.1,833.15L627.2,858.95L640.8,835.25H592.3Z" fill="#9BD9EB"/>
<path d="M371.9,831.65H323.4L336.9,807.95L274,833.75L336.9,859.55L323.4,835.85H371.9Z" fill="#9BD9EB"/>
<path d="M592.3,969.05H640.8L627.2,945.35L690.1,971.15L627.2,996.95L640.8,973.25H592.3Z" fill="#9BD9EB"/>
<path d="M371.9,969.65H323.4L336.9,945.95L274,971.75L336.9,997.55L323.4,973.85H371.9Z" fill="#9BD9EB"/>
<path d="M401.65,1133.75H405.85V1182.8L429.65,1169L403.75,1231.8L377.85,1169L401.65,1182.8Z" fill="#9BD9EB"/>
<path d="M557.65,1133.75H561.85V1182.8L585.65,1169L559.75,1231.8L533.85,1169L557.65,1182.8Z" fill="#9BD9EB"/>
<path d="M780.3,316.75H716L724.9,301.7L683,318.8L724.9,335.9L716,320.85H780.3Z" fill="#231F20"/>
<path d="M637.3000000000001,1140H641.9V1225H637.3000000000001Z" fill="#231F20"/>
<path d="M639.6,1101.8Q641.2,1126 655.2,1153L639.6,1144.3L624.0,1153Q638.0,1126 639.6,1101.8Z" fill="#231F20"/>
<path d="M639.6,1262.8Q641.2,1239 655.2,1212.2L639.6,1220.4L624.0,1212.2Q638.0,1239 639.6,1262.8Z" fill="#231F20"/>
<path d="M160,310.75L413,312.5M285.5,510.5L371.7,458.5M243,595.8L376.3,692M1081.2,239.5L1214.3,302.5M1080.5,510.3H1214.3" stroke="#231F20" stroke-width="4.2" fill="none"/>
<text y="53.25" font-size="47" fill="#000"><tspan x="852.51" textLength="309.23" lengthAdjust="spacingAndGlyphs">Sedimentation</tspan></text>
<text y="113.75" font-size="47" fill="#000"><tspan x="910.54" textLength="192.95" lengthAdjust="spacingAndGlyphs">Chamber</tspan></text>
<text y="182.5" font-size="47" fill="#003399"><tspan x="808.53" textLength="243.72" lengthAdjust="spacingAndGlyphs">Stormwater</tspan> <tspan x="1063.55" textLength="140.21" lengthAdjust="spacingAndGlyphs">Runoff</tspan></text>
<text y="123" font-size="47" fill="#000"><tspan x="1262.28" textLength="276.47" lengthAdjust="spacingAndGlyphs">Pretreatment</tspan></text>
<text y="183.25" font-size="47" fill="#000"><tspan x="1322.25" textLength="159.75" lengthAdjust="spacingAndGlyphs">Feature</tspan></text>
<text y="174.5" font-size="47" fill="#000"><tspan x="393.60" textLength="73.89" lengthAdjust="spacingAndGlyphs">Dry</tspan> <tspan x="482.51" textLength="82.38" lengthAdjust="spacingAndGlyphs">well</tspan></text>
<text y="327.5" font-size="47" fill="#000"><tspan x="16.76" textLength="133.72" lengthAdjust="spacingAndGlyphs">Gravel</tspan></text>
<text y="525.75" font-size="47" fill="#000"><tspan x="15.50" textLength="256.01" lengthAdjust="spacingAndGlyphs">Perforations</tspan></text>
<text y="585.75" font-size="47" fill="#000"><tspan x="16.47" textLength="40.30" lengthAdjust="spacingAndGlyphs">in</tspan> <tspan x="68.12" textLength="66.88" lengthAdjust="spacingAndGlyphs">dry</tspan> <tspan x="150.00" textLength="82.89" lengthAdjust="spacingAndGlyphs">well</tspan></text>
<text y="645.75" font-size="47" fill="#000"><tspan x="16.76" textLength="135.21" lengthAdjust="spacingAndGlyphs">casing</tspan></text>
<text y="321.25" font-size="47" fill="#000"><tspan x="1223.01" textLength="158.72" lengthAdjust="spacingAndGlyphs">Grating</tspan></text>
<text y="394.5" font-size="47" fill="#fff"><tspan x="1164.02" textLength="367.98" lengthAdjust="spacingAndGlyphs">Low-permeability</tspan> <tspan x="1544.50" textLength="109.51" lengthAdjust="spacingAndGlyphs">(clay)</tspan> <tspan x="1663.57" textLength="100.17" lengthAdjust="spacingAndGlyphs">layer</tspan></text>
<text y="526.25" font-size="47" fill="#000"><tspan x="1223.76" textLength="148.72" lengthAdjust="spacingAndGlyphs">Settled</tspan> <tspan x="1383.04" textLength="199.96" lengthAdjust="spacingAndGlyphs">Sediment</tspan></text>
<text y="718" font-size="47" fill="#000"><tspan x="706.20" textLength="222.57" lengthAdjust="spacingAndGlyphs">Infiltration</tspan></text>
<text y="897" font-size="47" fill="#000"><tspan x="1197.00" textLength="148.71" lengthAdjust="spacingAndGlyphs">Vadose</tspan> <tspan x="1357.78" textLength="106.69" lengthAdjust="spacingAndGlyphs">Zone</tspan></text>
<text y="1200" font-size="47" fill="#000"><tspan x="689.26" textLength="227.48" lengthAdjust="spacingAndGlyphs">Separation</tspan> <tspan x="924.75" textLength="181.75" lengthAdjust="spacingAndGlyphs">Distance</tspan></text>
<text y="1253.5" font-size="47" fill="#000"><tspan x="1210.00" textLength="120.96" lengthAdjust="spacingAndGlyphs">Water</tspan> <tspan x="1339.03" textLength="112.92" lengthAdjust="spacingAndGlyphs">Table</tspan></text>
</svg></body></html>
